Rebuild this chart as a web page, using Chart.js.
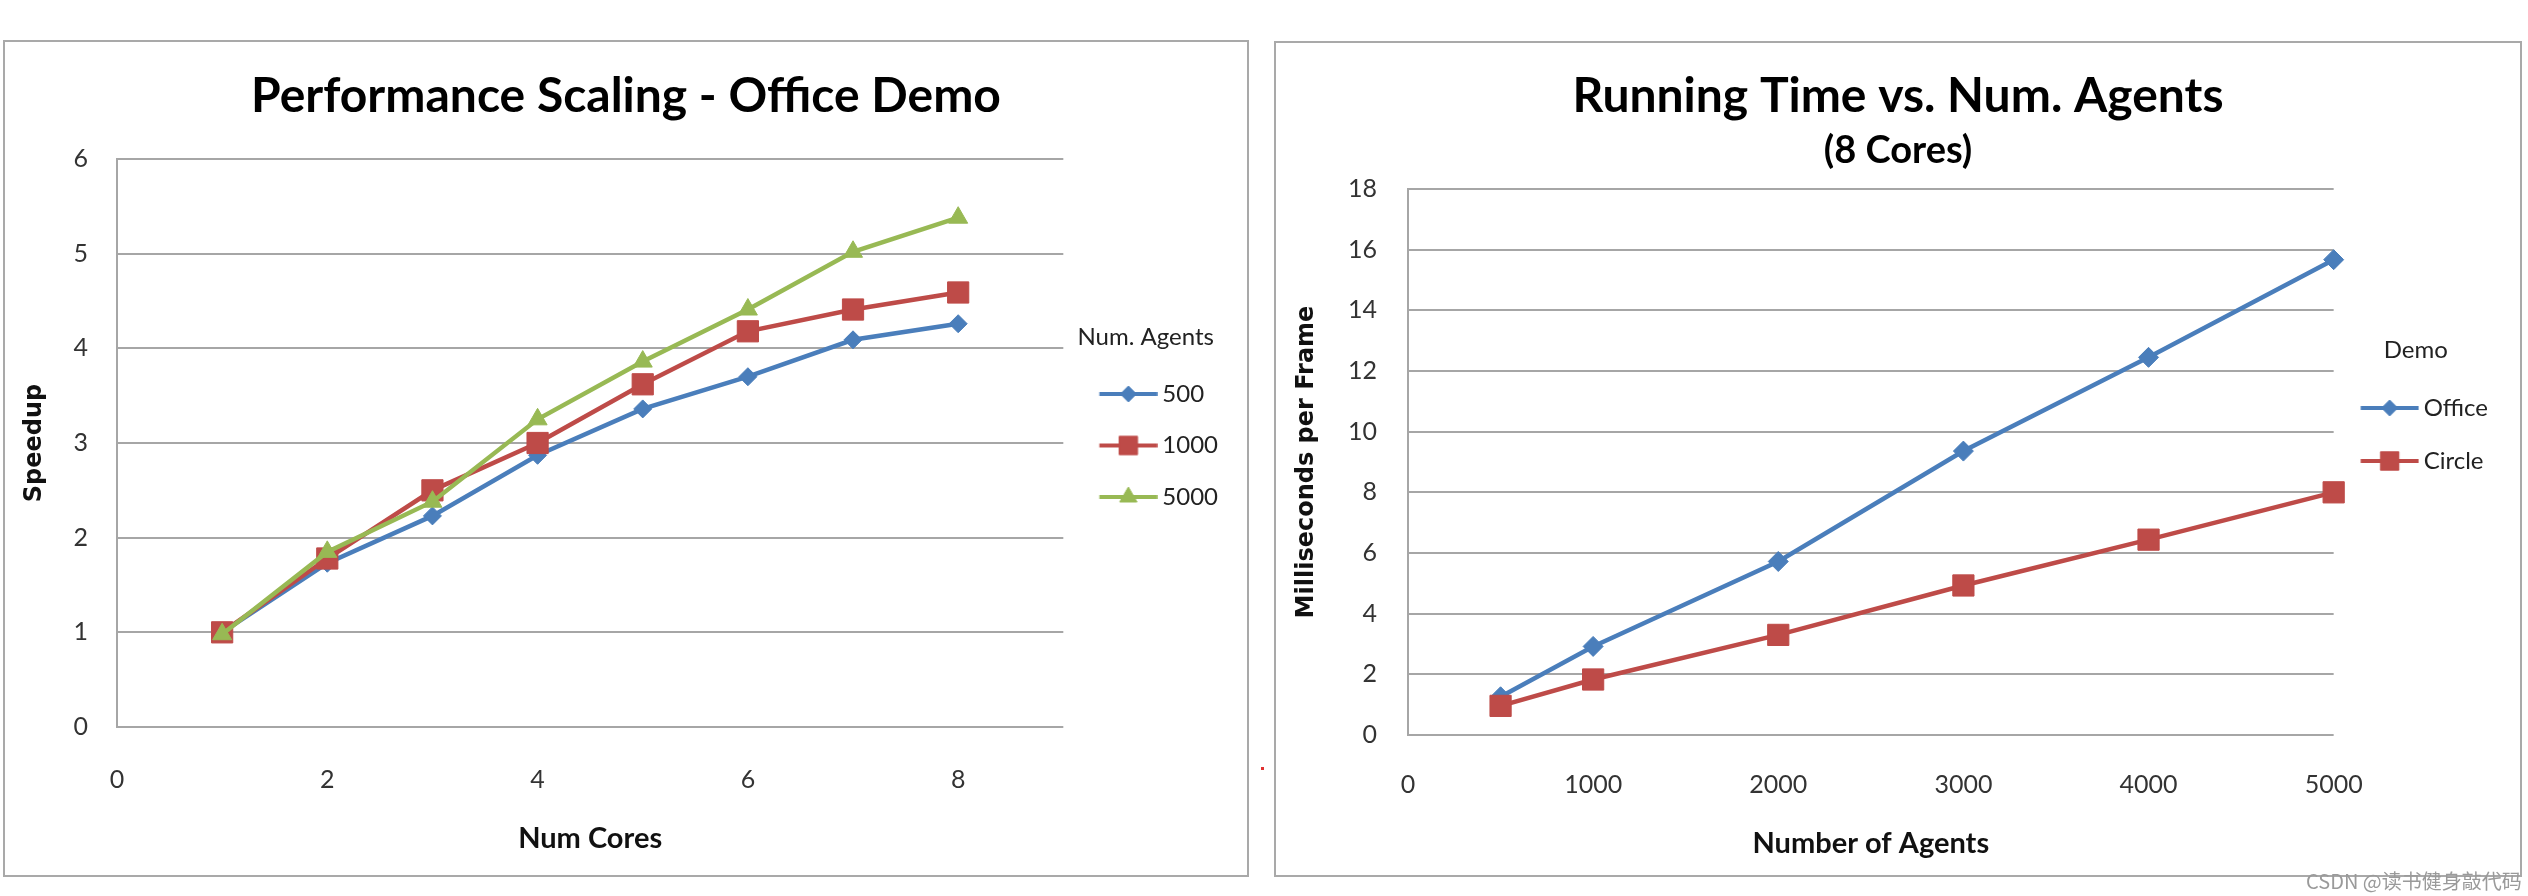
<!DOCTYPE html>
<html lang="en">
<head>
<meta charset="UTF-8">
<title>Performance Scaling / Running Time</title>
<script src="https://cdn.jsdelivr.net/npm/chart.js@4.4.1/dist/chart.umd.min.js"></script>
<style>
    html, body { margin: 0; padding: 0; background: #fff; }
    body { width: 2528px; height: 896px; position: relative; overflow: hidden; }
    .panel { position: absolute; box-sizing: border-box; border: 2px solid #a9a9a9; background: #fff; }
    #leftPanel { left: 3px; top: 40px; width: 1246px; height: 837px; }
    #rightPanel { left: 1274px; top: 41px; width: 1248px; height: 836px; }
    .panel canvas { display: block; }
    .dot { position: absolute; left: 1261px; top: 767px; width: 3px; height: 3px; background: #e03030; }
    .mark { position: absolute; left: 2306px; top: 866px; font: 20px "Noto Sans CJK SC", sans-serif; color: #9a9a9a; white-space: nowrap; }
</style>
</head>
<body>
    <div class="panel" id="leftPanel"><canvas id="scaling" width="1242" height="833"></canvas></div>
    <div class="panel" id="rightPanel"><canvas id="runtime" width="1244" height="832"></canvas></div>
    <div class="dot"></div>
    <div class="mark">CSDN @读书健身敲代码</div>

<script>
// left chart: speedup vs cores
const cores = [1, 2, 3, 4, 5, 6, 7, 8];
const agents500 = [1.0, 1.73, 2.23, 2.87, 3.36, 3.70, 4.09, 4.26];
const agents1000 = [1.0, 1.78, 2.50, 3.00, 3.62, 4.18, 4.41, 4.59];
const agents5000 = [0.98, 1.85, 2.38, 3.25, 3.86, 4.41, 5.02, 5.38];
const coreTicks = [0, 2, 4, 6, 8];
const speedupTicks = [0, 1, 2, 3, 4, 5, 6];

// right chart: ms per frame vs agents (8 cores)
const agentCounts = [500, 1000, 2000, 3000, 4000, 5000];
const officeMs = [1.26, 2.92, 5.72, 9.36, 12.45, 15.67];
const circleMs = [0.96, 1.83, 3.30, 4.93, 6.44, 8.00];
const agentTicks = [0, 1000, 2000, 3000, 4000, 5000];
const msTicks = [0, 2, 4, 6, 8, 10, 12, 14, 16, 18];

const BLUE = '#4a7ebb', RED = '#be4b48', GREEN = '#98b954';
const GRID = '#a6a6a6';
const TICK_FONT = { family: 'Lato', size: 25 };

function pts(xs, ys) { return xs.map((x, i) => ({ x: x, y: ys[i] })); }

// legend icon: line with the marker in the middle (Excel style)
function legendIcon(color, style, radius, boxW, lineStart) {
    const L = 58, c = boxW / 2;
    const half = Math.ceil(Math.max(c - lineStart, lineStart + L - c, 18));
    const h = 36;
    const cv = document.createElement('canvas');
    cv.width = half * 2; cv.height = h;
    const g = cv.getContext('2d');
    const x0 = half - (c - lineStart);
    g.strokeStyle = color; g.lineWidth = 4;
    g.beginPath(); g.moveTo(x0, h / 2); g.lineTo(x0 + L, h / 2); g.stroke();
    g.fillStyle = color; g.strokeStyle = color; g.lineWidth = 1;
    Chart.helpers.drawPoint(g, { pointStyle: style, radius: radius, rotation: 0, borderWidth: 1 }, x0 + L / 2, h / 2);
    return cv;
}

// nudges the legend (vertically) and the titles (horizontally) after layout,
// the chart area itself is left alone
const boxShift = {
    id: 'boxShift',
    afterUpdate(chart, args, opts) {
        if (chart.legend && opts.legendDy) {
            chart.legend.top += opts.legendDy;
            chart.legend.bottom += opts.legendDy;
        }
        if (opts.titleDx) {
            chart.boxes.forEach(b => {
                if (b.position === 'top' && b.options && 'text' in b.options) {
                    b.left += opts.titleDx;
                    b.right += opts.titleDx;
                }
            });
        }
    }
};

function series(label, xs, ys, color, style, r, order) {
    return {
        label: label, data: pts(xs, ys), order: order,
        borderColor: color, backgroundColor: color, borderWidth: 4.5,
        pointStyle: style, pointRadius: r, pointHoverRadius: r,
        pointBackgroundColor: color, pointBorderColor: color, pointBorderWidth: 1,
        tension: 0, clip: false
    };
}

function legendOpts(title, titlePad, pad, boxW, lineStart, icons) {
    return {
        position: 'right', align: 'center',
        title: { display: true, text: title, color: '#222', font: { family: 'Lato', size: 24 }, padding: titlePad },
        labels: {
            usePointStyle: true, pointStyleWidth: boxW, padding: pad,
            color: '#222', font: { family: 'Lato', size: 24 },
            generateLabels(chart) {
                return chart.data.datasets.map((ds, i) => ({
                    text: ds.label, fillStyle: ds.borderColor, strokeStyle: ds.borderColor,
                    lineWidth: 0, hidden: false, datasetIndex: i, fontColor: '#222',
                    pointStyle: legendIcon(ds.borderColor, ds.pointStyle, icons[i], boxW, lineStart)
                }));
            }
        }
    };
}

const plainNum = v => String(v);

function build() {
    new Chart(document.getElementById('scaling'), {
        type: 'line',
        data: {
            datasets: [
                series('500', cores, agents500, BLUE, 'rectRot', 9, 3),
                series('1000', cores, agents1000, RED, 'rect', 15, 2),
                series('5000', cores, agents5000, GREEN, 'triangle', 11, 1)
            ]
        },
        options: {
            responsive: false, animation: false, devicePixelRatio: 1,
            layout: { padding: { left: 0, right: 19, top: 0, bottom: 0 } },
            plugins: {
                title: {
                    display: true, text: 'Performance Scaling - Office Demo', color: '#000',
                    font: { family: 'Lato', size: 48, weight: 'bold' }, padding: { top: 25.7, bottom: 33.7 }
                },
                legend: legendOpts('Num. Agents', 0, 27.5, 59.5, 8.5, [8, 13, 10]),
                boxShift: { legendDy: -27.4, titleDx: 9.5 },
                tooltip: { enabled: false }
            },
            scales: {
                x: {
                    type: 'linear', min: 0, max: 9,
                    afterBuildTicks: ax => { ax.ticks = coreTicks.map(v => ({ value: v })); },
                    afterFit: ax => { ax.height = 148; },
                    grid: { display: false, drawTicks: false, tickLength: 0 },
                    border: { display: false },
                    ticks: { padding: 38, color: '#333', font: TICK_FONT, maxRotation: 0, autoSkip: false, callback: plainNum },
                    title: { display: true, text: 'Num Cores', color: '#111', font: { family: 'Lato', size: 29, weight: 'bold' }, padding: { top: 0, bottom: 19.2 } }
                },
                y: {
                    min: 0, max: 6,
                    afterBuildTicks: ax => { ax.ticks = speedupTicks.map(v => ({ value: v })); },
                    afterFit: ax => { ax.width = 112; },
                    grid: { color: GRID, lineWidth: 2, drawTicks: false, tickLength: 0 },
                    border: { display: true, color: GRID, width: 2 },
                    ticks: { padding: 29, color: '#333', font: TICK_FONT, callback: plainNum },
                    title: { display: true, text: 'Speedup', color: '#111', font: { family: 'DejaVu Sans', size: 24, weight: 'bold' }, padding: { top: 15.6, bottom: 0 } }
                }
            }
        },
        plugins: [boxShift]
    });

    new Chart(document.getElementById('runtime'), {
        type: 'line',
        data: {
            datasets: [
                series('Office', agentCounts, officeMs, BLUE, 'rectRot', 10, 2),
                series('Circle', agentCounts, circleMs, RED, 'rect', 15, 1)
            ]
        },
        options: {
            responsive: false, animation: false, devicePixelRatio: 1,
            layout: { padding: { left: 0, right: 22, top: 0, bottom: 0 } },
            plugins: {
                title: {
                    display: true, text: 'Running Time vs. Num. Agents', color: '#000',
                    font: { family: 'Lato', size: 48, weight: 'bold' }, padding: { top: 24.7, bottom: 0 }
                },
                subtitle: {
                    display: true, text: '(8 Cores)', color: '#000',
                    font: { family: 'Lato', size: 38, weight: 'bold' }, padding: { top: 2.5, bottom: 15.6 }
                },
                legend: legendOpts('Demo', 0, 29, 49, -2, [8, 13]),
                boxShift: { legendDy: -38.9, titleDx: 11 },
                tooltip: { enabled: false }
            },
            scales: {
                x: {
                    type: 'linear', min: 0, max: 5000,
                    afterBuildTicks: ax => { ax.ticks = agentTicks.map(v => ({ value: v })); },
                    afterFit: ax => { ax.height = 140; },
                    grid: { display: false, drawTicks: false, tickLength: 0 },
                    border: { display: false },
                    ticks: { padding: 35, color: '#333', font: TICK_FONT, maxRotation: 0, autoSkip: false, callback: plainNum },
                    title: { display: true, text: 'Number of Agents', color: '#111', font: { family: 'Lato', size: 29, weight: 'bold' }, padding: { top: 0, bottom: 14.2 } }
                },
                y: {
                    min: 0, max: 18,
                    afterBuildTicks: ax => { ax.ticks = msTicks.map(v => ({ value: v })); },
                    afterFit: ax => { ax.width = 132; },
                    grid: { color: GRID, lineWidth: 2, drawTicks: false, tickLength: 0 },
                    border: { display: true, color: GRID, width: 2 },
                    ticks: { padding: 31, color: '#333', font: TICK_FONT, callback: plainNum },
                    title: { display: true, text: 'Milliseconds per Frame', color: '#111', font: { family: 'DejaVu Sans', size: 24, weight: 'bold' }, padding: { top: 16.6, bottom: 0 } }
                }
            }
        },
        plugins: [boxShift]
    });
}

Promise.all([
    document.fonts.load('bold 48px Lato'),
    document.fonts.load('25px Lato'),
    document.fonts.load('bold 24px "DejaVu Sans"')
]).then(build, build);
</script>
</body>
</html>
